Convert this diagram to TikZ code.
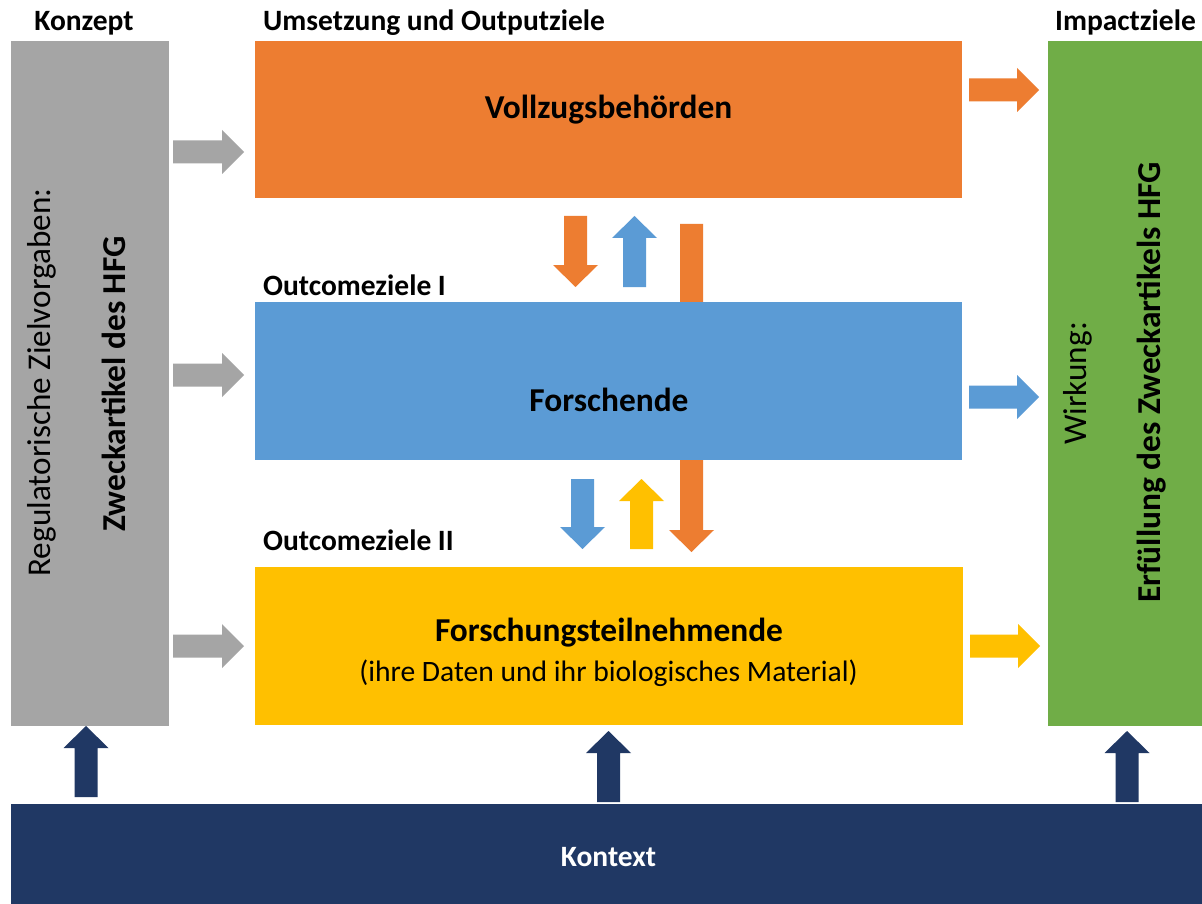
\documentclass[tikz,border=0pt]{standalone}
\usepackage{fontspec}
\setmainfont{Carlito}
\definecolor{cgray}{HTML}{A5A5A5}
\definecolor{corange}{HTML}{ED7D31}
\definecolor{cblue}{HTML}{5B9BD5}
\definecolor{cyellow}{HTML}{FFC000}
\definecolor{cgreen}{HTML}{70AD47}
\definecolor{cnavy}{HTML}{203864}
\newcommand{\rArrowShape}[4]{% tail x, tip x, centre y, colour
  \fill[#4] (#1,#3-11.5) -- (#2-22,#3-11.5) -- (#2-22,#3-22) -- (#2,#3)
    -- (#2-22,#3+22) -- (#2-22,#3+11.5) -- (#1,#3+11.5) -- cycle;}
\newcommand{\vArrowShape}[4]{% centre x, tail y, tip y, colour
  \fill[#4] ({#1-11.5},#2) -- ({#1-11.5},{#3-22*sign(#3-#2)}) -- ({#1-22.5},{#3-22*sign(#3-#2)})
    -- (#1,#3) -- ({#1+22.5},{#3-22*sign(#3-#2)}) -- ({#1+11.5},{#3-22*sign(#3-#2)})
    -- ({#1+11.5},#2) -- cycle;}
\tikzset{
  box/.style={draw=none, inner sep=0, outer sep=0, anchor=north west},
  hdr/.style={font=\fontsize{29.5}{35}\selectfont\bfseries, inner sep=0},
  lbl/.style={font=\fontsize{33.4}{40}\selectfont\bfseries, inner sep=0, anchor=base},
  sub/.style={font=\fontsize{29.6}{35}\selectfont, inner sep=0, anchor=base},
  rotreg/.style={font=\fontsize{33.2}{40}\selectfont, inner sep=0, rotate=90, anchor=base},
  rotbold/.style={font=\fontsize{33.4}{40}\selectfont\bfseries, inner sep=0, rotate=90, anchor=base},
}
\begin{document}
\begin{tikzpicture}[x=1pt,y=-1pt]
\useasboundingbox (0,0) rectangle (1202,904);
\fill[white] (0,0) rectangle (1202,904);

% headers
\node[hdr, anchor=base] (hkonzept) at (84,31) {Konzept};
\node[hdr, anchor=base west] (humsetz) at (263,31) {Umsetzung und Outputziele};
\node[hdr, anchor=base] (himpact) at (1125.5,31) {Impactziele};
\node[hdr, anchor=base west] (hout1) at (263,295) {Outcomeziele I};
\node[hdr, anchor=base west] (hout2) at (263,550) {Outcomeziele II};

% long orange arrow (behind the blue box)
\vArrowShape{691.5}{224}{552}{corange}

% boxes
\node[box, fill=cgray, minimum width=158, minimum height=685] (konzept) at (11,41) {};
\node[box, fill=corange, minimum width=707, minimum height=157] (vollzug) at (255,41) {};
\node[box, fill=cblue, minimum width=707, minimum height=158] (forsch) at (255,302) {};
\node[box, fill=cyellow, minimum width=708, minimum height=158] (teiln) at (255,567) {};
\node[box, fill=cgreen, minimum width=154, minimum height=685] (impact) at (1048,41) {};
\node[box, fill=cnavy, minimum width=1191, minimum height=100] (kontext) at (11,804) {};

% box labels
\node[lbl] (tvollzug) at (608.5,119) {Vollzugsbehörden};
\node[lbl] (tforsch) at (609,411) {Forschende};
\node[lbl] (tteiln) at (609,641) {Forschungsteilnehmende};
\node[sub] (tteiln2) at (608.5,681) {(ihre Daten und ihr biologisches Material)};
\node[hdr, anchor=base, text=white] (tkontext) at (608.5,866) {Kontext};
\node[rotreg] (treg) at (50,382.5) {Regulatorische Zielvorgaben:};
\node[rotbold] (tzweck) at (125,384) {Zweckartikel des HFG};
\node[rotreg] (twirk) at (1086,383.5) {Wirkung:};
\node[rotbold] (terf) at (1160,382.5) {Erfüllung des Zweckartikels HFG};

% horizontal arrows
\rArrowShape{173}{244}{152}{cgray}
\rArrowShape{173}{244}{375}{cgray}
\rArrowShape{173}{244}{646}{cgray}
\rArrowShape{969}{1039}{90}{corange}
\rArrowShape{969}{1039}{397}{cblue}
\rArrowShape{970}{1040}{646}{cyellow}

% vertical arrows between boxes
\vArrowShape{575.5}{216}{287}{corange}
\vArrowShape{634.5}{287}{216}{cblue}
\vArrowShape{582.5}{479}{549}{cblue}
\vArrowShape{641.5}{549}{479}{cyellow}

% context arrows
\vArrowShape{86}{797}{726}{cnavy}
\vArrowShape{608.5}{802}{731}{cnavy}
\vArrowShape{1127}{802}{731}{cnavy}
\end{tikzpicture}
\end{document}
